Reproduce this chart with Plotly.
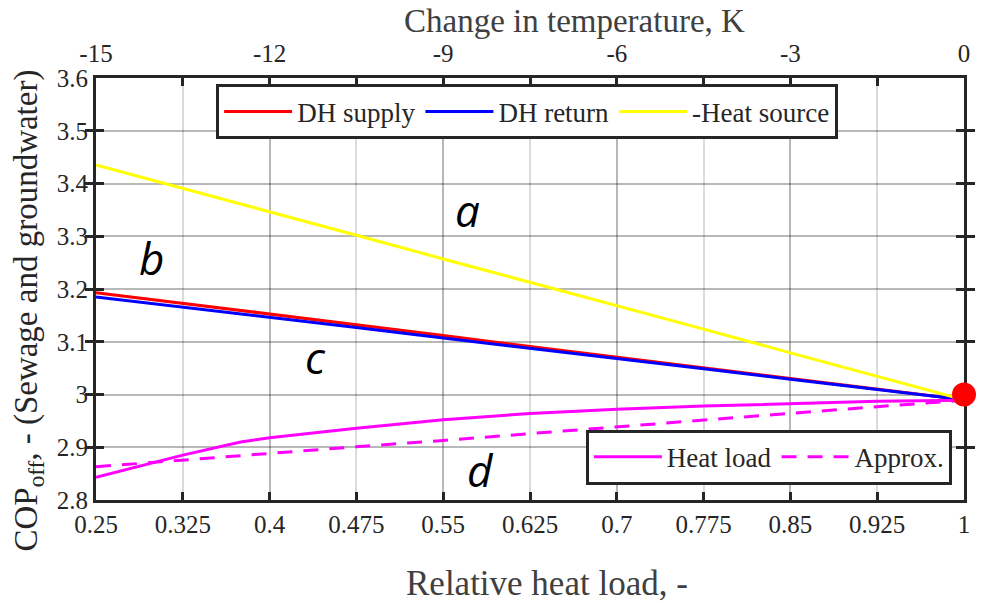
import plotly.graph_objects as go

# ---- data ----
load = [0.25, 0.325, 0.4, 0.475, 0.55, 0.625, 0.7, 0.775, 0.85, 0.925, 1.0]
load_ticktext = ["0.25", "0.325", "0.4", "0.475", "0.55", "0.625", "0.7", "0.775", "0.85", "0.925", "1"]
dT_ticks = [-15, -12, -9, -6, -3, 0]
dT_ticktext = ["-15", "-12", "-9", "-6", "-3", "0"]
dT = [-15.0, -13.5, -12.0, -10.5, -9.0, -7.5, -6.0, -4.5, -3.0, -1.5, 0.0]

dh_supply = [3.193, 3.173, 3.152, 3.132, 3.112, 3.091, 3.071, 3.051, 3.031, 3.010, 2.990]
dh_return = [3.185, 3.166, 3.146, 3.127, 3.107, 3.088, 3.068, 3.049, 3.029, 3.010, 2.990]
heat_source = [3.435, 3.391, 3.346, 3.302, 3.257, 3.213, 3.168, 3.124, 3.079, 3.035, 2.990]

hl_load = [0.25, 0.325, 0.375, 0.4, 0.475, 0.55, 0.625, 0.7, 0.775, 0.85, 0.925, 1.0]
heat_load = [2.843, 2.885, 2.910, 2.918, 2.936, 2.952, 2.964, 2.972, 2.978, 2.983, 2.987, 2.989]
approx = [2.863, 2.876, 2.888, 2.901, 2.913, 2.926, 2.939, 2.951, 2.964, 2.977, 2.989]

ref_point_x = [1.0]
ref_point_y = [3.0]

y_ticks = [2.8, 2.9, 3.0, 3.1, 3.2, 3.3, 3.4, 3.5, 3.6]
y_ticktext = ["2.8", "2.9", "3", "3.1", "3.2", "3.3", "3.4", "3.5", "3.6"]

labels = [("a", 0.571, 3.35), ("b", 0.298, 3.259), ("c", 0.44, 3.071), ("d", 0.582, 2.857)]

SERIF = "Liberation Serif"
DARK = "#262626"
TITLE = "#404040"

fig = go.Figure()
fig.add_trace(go.Scatter(x=load, y=dh_supply, mode="lines", name="DH supply",
                         line=dict(color="#ff0000", width=3), legend="legend"))
fig.add_trace(go.Scatter(x=load, y=dh_return, mode="lines", name="DH return",
                         line=dict(color="#0000ff", width=3), legend="legend"))
fig.add_trace(go.Scatter(x=load, y=heat_source, mode="lines", name="-Heat source",
                         line=dict(color="#ffff00", width=3), legend="legend"))
fig.add_trace(go.Scatter(x=hl_load, y=heat_load, mode="lines", name="Heat load",
                         line=dict(color="#ff00ff", width=3), legend="legend2"))
fig.add_trace(go.Scatter(x=load, y=approx, mode="lines", name="Approx.",
                         line=dict(color="#ff00ff", width=3, dash="15px,11px"), legend="legend2"))
fig.add_trace(go.Scatter(x=ref_point_x, y=ref_point_y, mode="markers", showlegend=False,
                         marker=dict(color="#ff0000", size=24), cliponaxis=False))
# invisible trace on top axis
fig.add_trace(go.Scatter(x=dT, y=dh_supply, xaxis="x2", mode="lines", showlegend=False,
                         line=dict(width=0), opacity=0, hoverinfo="skip"))

for t, x, y in labels:
    fig.add_annotation(x=x, y=y, text="<i>" + t + "</i>", showarrow=False,
                       font=dict(family="Open Sans", size=44, color="black"))

fig.add_annotation(xref="paper", yref="paper", x=0.5195, y=-0.197, xanchor="center", yanchor="middle",
                   text="Relative heat load, -",
                   showarrow=False, font=dict(family=SERIF, size=35, color=TITLE))
fig.add_annotation(xref="paper", yref="paper", x=0.551, y=1.134, xanchor="center", yanchor="middle",
                   text="Change in temperature, K",
                   showarrow=False, font=dict(family=SERIF, size=33, color=TITLE))
fig.add_annotation(xref="paper", yref="paper", x=-0.0778, y=0.45, xanchor="center", yanchor="middle",
                   textangle=-90,
                   text="COP<sub>off</sub>, - (Sewage and groundwater)",
                   showarrow=False, font=dict(family=SERIF, size=33, color=DARK))

fig.update_layout(
    width=982, height=603,
    margin=dict(l=96, r=12, t=78, b=103),
    paper_bgcolor="white", plot_bgcolor="white",
    hovermode=False, dragmode=False,
    font=dict(family=SERIF, size=25, color=DARK),
    xaxis=dict(range=[0.25, 1.0], tickvals=load, ticktext=load_ticktext,
               ticks="inside", ticklen=8, tickwidth=3, tickcolor=DARK,
               showline=True, linewidth=3, linecolor=DARK, mirror="allticks",
               showgrid=True, gridcolor="rgba(0,0,0,0.14)", gridwidth=2,
               zeroline=False, layer="below traces",
               tickfont=dict(family=SERIF, size=25, color=DARK)),
    xaxis2=dict(range=[-15, 0], overlaying="x", side="top", tickvals=dT_ticks, ticktext=dT_ticktext,
                ticks="outside", ticklen=5, tickcolor="rgba(0,0,0,0)",
                showline=False, showgrid=True, gridcolor="rgba(0,0,0,0.16)", gridwidth=2,
                zeroline=False, layer="below traces",
                tickfont=dict(family=SERIF, size=25, color=DARK)),
    yaxis=dict(range=[2.8, 3.6], tickvals=y_ticks, ticktext=y_ticktext,
               ticks="inside", ticklen=8, tickwidth=3, tickcolor=DARK,
               showline=True, linewidth=3, linecolor=DARK, mirror="allticks",
               showgrid=True, gridcolor="rgba(0,0,0,0.28)", gridwidth=2,
               zeroline=False, layer="below traces",
               tickfont=dict(family=SERIF, size=25, color=DARK)),
    legend=dict(x=0.1384, y=0.985, xanchor="left", yanchor="top", orientation="h",
                bgcolor="white", bordercolor=DARK, borderwidth=3,
                font=dict(family=SERIF, size=27, color=DARK), itemwidth=68, tracegroupgap=0),
    legend2=dict(x=0.986, y=0.036, xanchor="right", yanchor="bottom", orientation="h",
                 bgcolor="white", bordercolor=DARK, borderwidth=3,
                 font=dict(family=SERIF, size=27, color=DARK), itemwidth=68),
)

fig.write_html("out.html", post_script="document.body.style.margin='0';",
               config={"displayModeBar": False, "staticPlot": True})
